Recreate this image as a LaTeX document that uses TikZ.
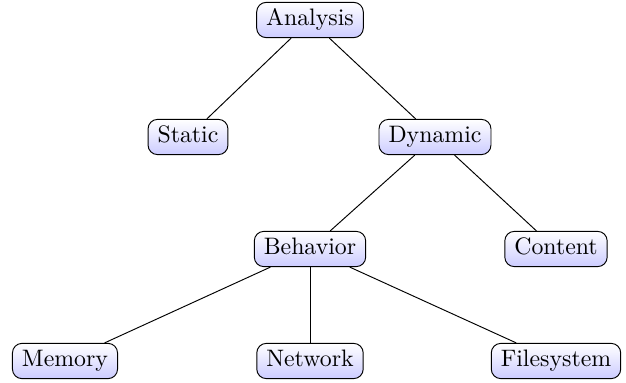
\documentclass[tikz,border=0pt]{standalone}
\usetikzlibrary{shadings}
\begin{document}
\begin{tikzpicture}[x=0.42pt,y=-0.42pt,
  treenode/.style={draw, rounded corners=4pt, top color=white, bottom color=blue!20,
    inner xsep=4pt, inner ysep=3pt, text height=6.9pt, text depth=1.9pt}]
\useasboundingbox (0,0) rectangle (626,383);
\node[treenode] (analysis) at (310,20) {Analysis};
\node[treenode] (static) at (188,137) {Static};
\node[treenode] (dynamic) at (435,137) {Dynamic};
\node[treenode] (behavior) at (310,249) {Behavior};
\node[treenode] (content) at (556,249) {Content};
\node[treenode] (memory) at (65,361) {Memory};
\node[treenode] (network) at (310,361) {Network};
\node[treenode] (filesystem) at (556,361) {Filesystem};
\draw (analysis) -- (static);
\draw (analysis) -- (dynamic);
\draw (dynamic) -- (behavior);
\draw (dynamic) -- (content);
\draw (behavior) -- (memory);
\draw (behavior) -- (network);
\draw (behavior) -- (filesystem);
\end{tikzpicture}
\end{document}
